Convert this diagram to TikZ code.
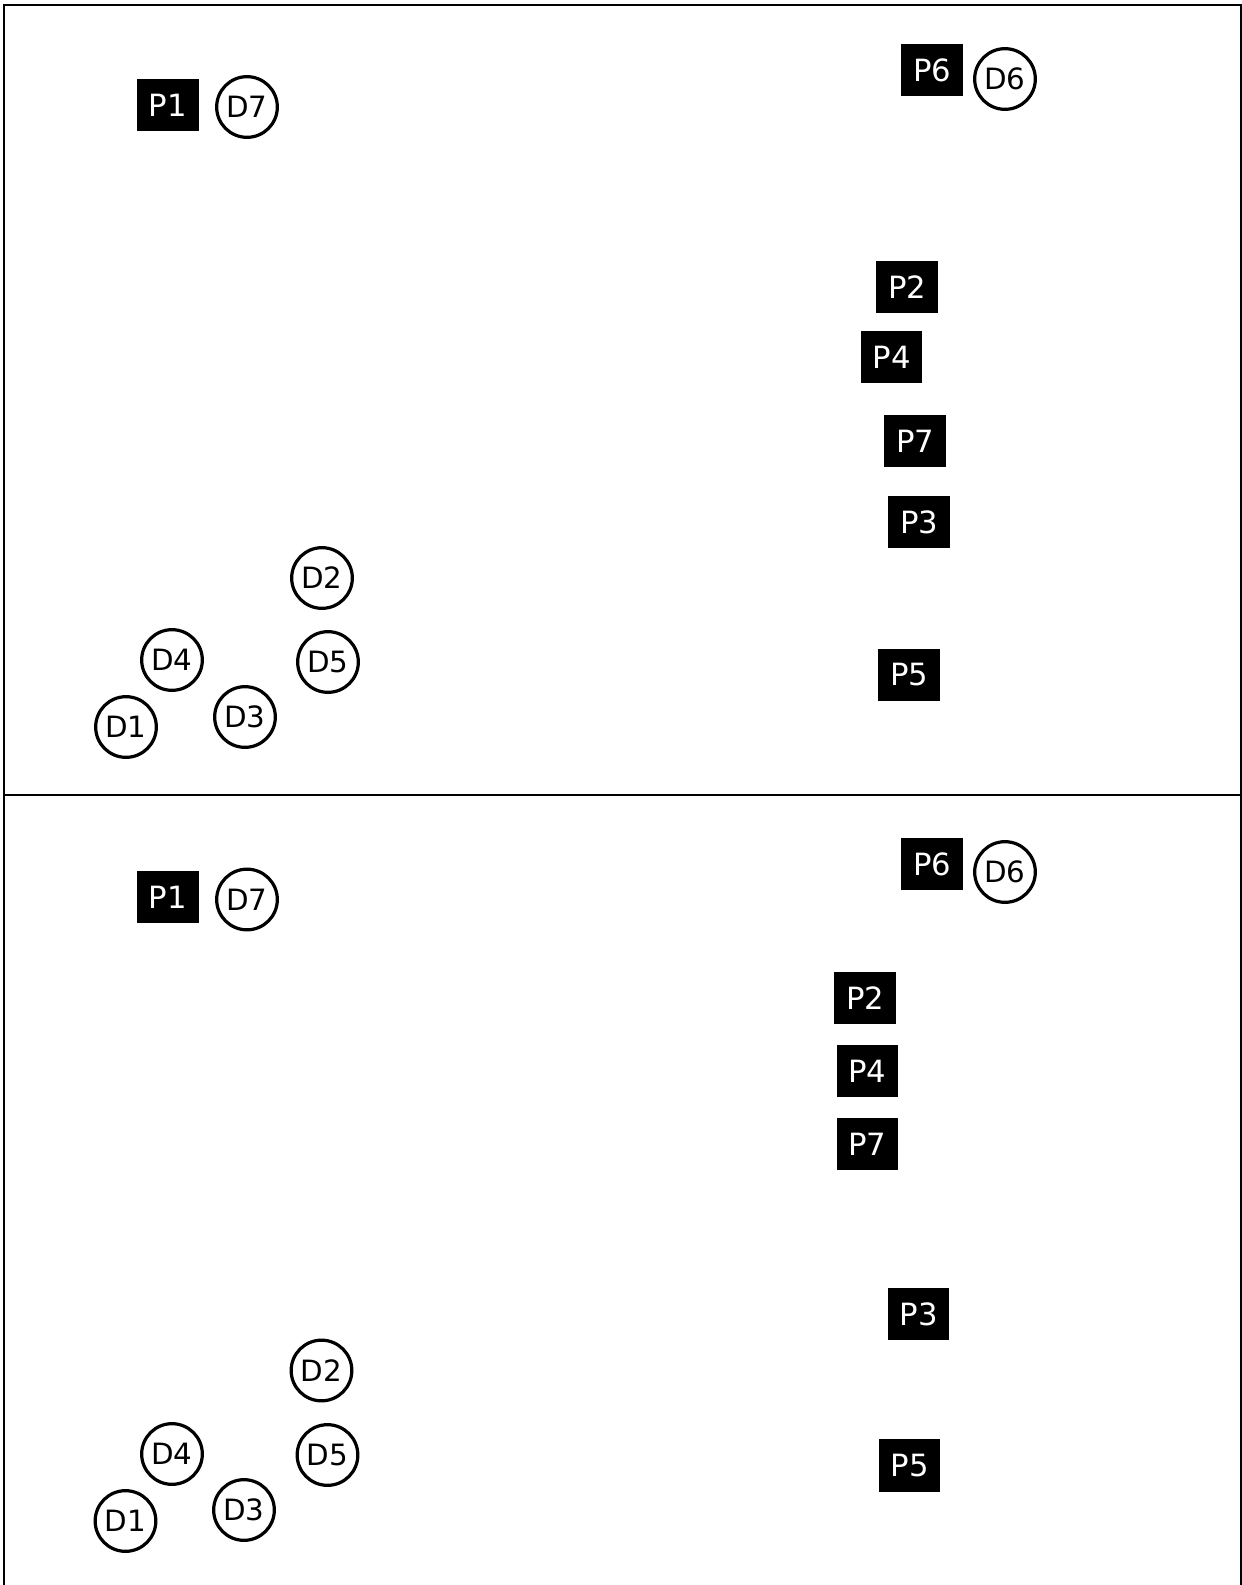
\documentclass[tikz,border=0pt]{standalone}
\usepackage{fontspec}
\setmainfont{DejaVu Sans}
\begin{document}
\begin{tikzpicture}[x=0.75pt,y=0.75pt,yscale=-1,xscale=1,
  pbox/.style={fill=black,text=white,minimum width=46pt,minimum height=39.5pt,inner sep=0pt,font=\fontsize{23}{26}\selectfont},
  dcirc/.style={circle,draw=black,line width=2.4pt,fill=white,minimum size=45.5pt,inner sep=0pt,font=\fontsize{22}{26}\selectfont}]
\useasboundingbox (0,0) rectangle (1242,1585);

% Frame
\draw [line width=1.5pt] (4,1600) -- (4,5) -- (1241,5) -- (1241,1600) ;
\draw [line width=1.5pt] (4,795) -- (1241,795) ;

% Upper panel
\node [pbox] (p1a) at (168,105) {P1};
\node [dcirc] (d7a) at (247,107) {D7};
\node [pbox] (p6a) at (932,70) {P6};
\node [dcirc] (d6a) at (1005,79) {D6};
\node [pbox] (p2a) at (907,287) {P2};
\node [pbox] (p4a) at (891.5,357) {P4};
\node [pbox] (p7a) at (915,441) {P7};
\node [pbox] (p3a) at (919,522) {P3};
\node [pbox] (p5a) at (909,675) {P5};
\node [dcirc] (d2a) at (322,578) {D2};
\node [dcirc] (d4a) at (172,660) {D4};
\node [dcirc] (d5a) at (328,662) {D5};
\node [dcirc] (d3a) at (245,717) {D3};
\node [dcirc] (d1a) at (126,727) {D1};

% Lower panel
\node [pbox] (p1b) at (168,897) {P1};
\node [dcirc] (d7b) at (247,899.5) {D7};
\node [pbox] (p6b) at (932,864) {P6};
\node [dcirc] (d6b) at (1005,872) {D6};
\node [pbox] (p2b) at (865,998) {P2};
\node [pbox] (p4b) at (867.5,1071) {P4};
\node [pbox] (p7b) at (867.5,1144) {P7};
\node [pbox] (p3b) at (918.5,1314) {P3};
\node [pbox] (p5b) at (909.5,1465.5) {P5};
\node [dcirc] (d2b) at (321.5,1370.5) {D2};
\node [dcirc] (d4b) at (172,1454) {D4};
\node [dcirc] (d5b) at (327.5,1455) {D5};
\node [dcirc] (d3b) at (244,1510) {D3};
\node [dcirc] (d1b) at (125.5,1521) {D1};

\end{tikzpicture}
\end{document}
